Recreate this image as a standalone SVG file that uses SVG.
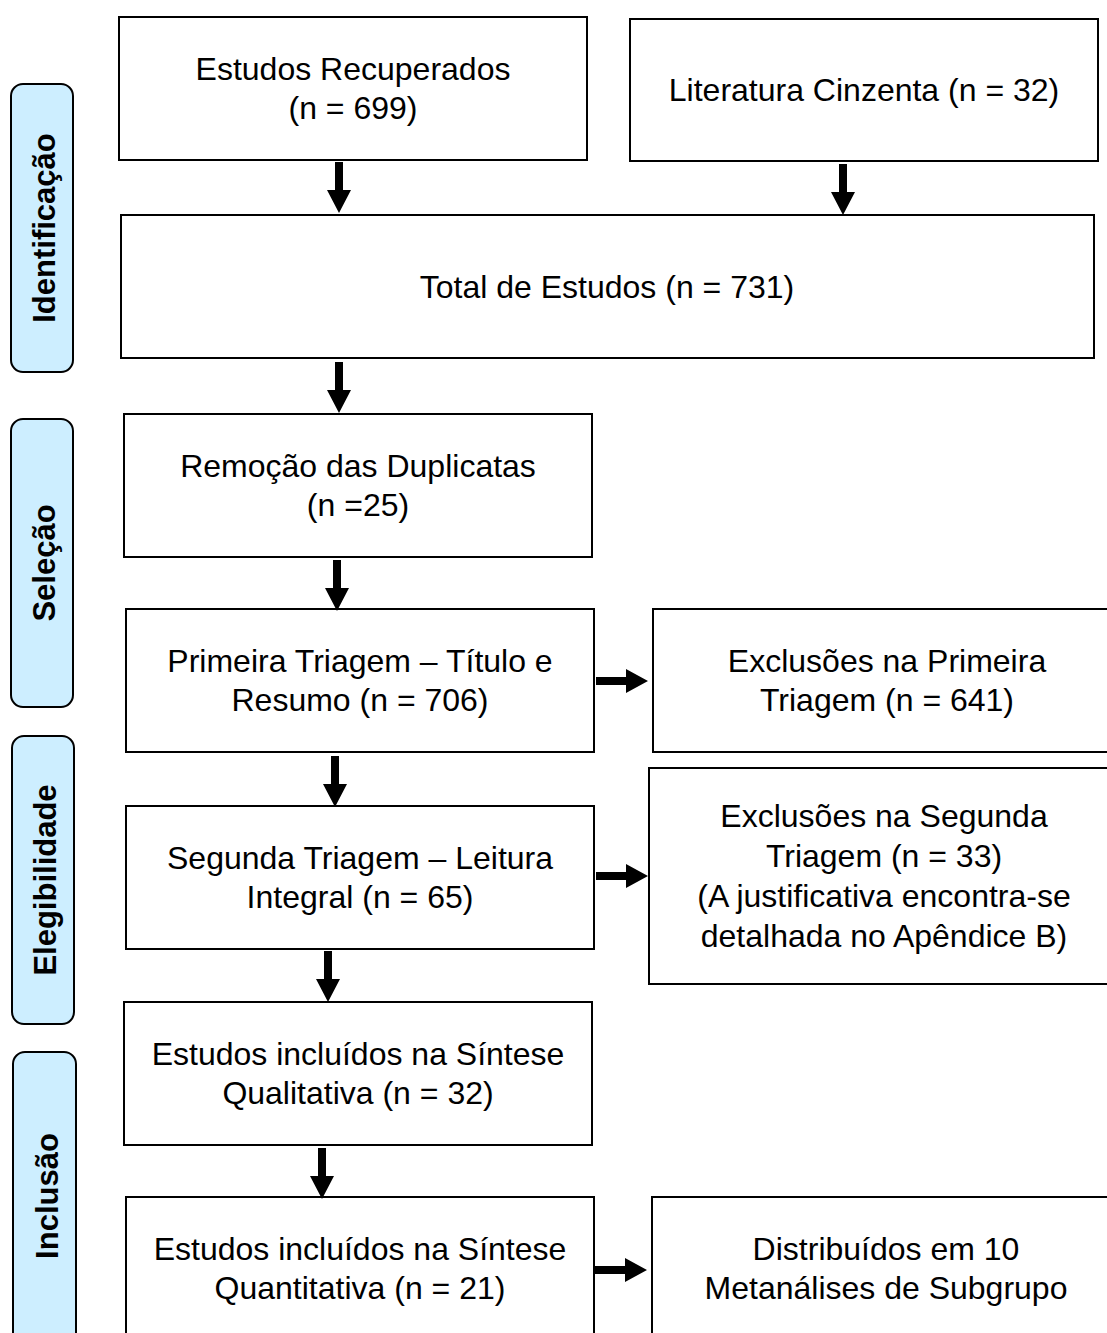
<svg xmlns="http://www.w3.org/2000/svg" width="1107" height="1333" viewBox="0 0 1107 1333">
<style>
.box{fill:#fff;stroke:#000;stroke-width:2}
.side{fill:#cdeeff;stroke:#000;stroke-width:2}
.t{font-family:"Liberation Sans",Arial,sans-serif;font-size:32px;fill:#000;text-anchor:middle}
.s{font-family:"Liberation Sans",Arial,sans-serif;font-size:31px;font-weight:bold;fill:#000;text-anchor:middle}
.arr{fill:#000}
</style>
<defs>
<path id="down" d="M-4,0 H4 V28 H12 L0,51 L-12,28 H-4 Z"/>
<path id="right" d="M0,-4 V4 H30 V12 L52,0 L30,-12 V-4 Z"/>
</defs>
<rect width="1107" height="1333" fill="#fff"/>
<g id="phase-identificacao"><rect class="side" x="11" y="84" width="62" height="288" rx="12"/><text class="s" transform="translate(55,228) rotate(-90)">Identificação</text></g>
<g id="phase-selecao"><rect class="side" x="11" y="419" width="62" height="288" rx="12"/><text class="s" transform="translate(55,563) rotate(-90)">Seleção</text></g>
<g id="phase-elegibilidade"><rect class="side" x="12" y="736" width="62" height="288" rx="12"/><text class="s" transform="translate(56,880) rotate(-90)">Elegibilidade</text></g>
<g id="phase-inclusao"><rect class="side" x="13" y="1052" width="63" height="300" rx="12"/><text class="s" transform="translate(58,1196) rotate(-90)">Inclusão</text></g>

<g id="n1"><rect class="box" x="119" y="17" width="468" height="143"/><text class="t" x="353" y="80">Estudos Recuperados</text><text class="t" x="353" y="119">(n = 699)</text></g>
<g id="n2"><rect class="box" x="630" y="19" width="468" height="142"/><text class="t" x="864" y="101">Literatura Cinzenta (n = 32)</text></g>
<g id="n3"><rect class="box" x="121" y="215" width="973" height="143"/><text class="t" x="607" y="298">Total de Estudos (n = 731)</text></g>
<g id="n4"><rect class="box" x="124" y="414" width="468" height="143"/><text class="t" x="358" y="477">Remoção das Duplicatas</text><text class="t" x="358" y="516">(n =25)</text></g>
<g id="n5"><rect class="box" x="126" y="609" width="468" height="143"/><text class="t" x="360" y="672">Primeira Triagem – Título e</text><text class="t" x="360" y="711">Resumo (n = 706)</text></g>
<g id="n6"><rect class="box" x="653" y="609" width="470" height="143"/><text class="t" x="887" y="672">Exclusões na Primeira</text><text class="t" x="887" y="711">Triagem (n = 641)</text></g>
<g id="n7"><rect class="box" x="126" y="806" width="468" height="143"/><text class="t" x="360" y="869">Segunda Triagem – Leitura</text><text class="t" x="360" y="908">Integral (n = 65)</text></g>
<g id="n8"><rect class="box" x="649" y="768" width="474" height="216"/><text class="t" x="884" y="827">Exclusões na Segunda</text><text class="t" x="884" y="867">Triagem (n = 33)</text><text class="t" x="884" y="907">(A justificativa encontra-se</text><text class="t" x="884" y="947">detalhada no Apêndice B)</text></g>
<g id="n9"><rect class="box" x="124" y="1002" width="468" height="143"/><text class="t" x="358" y="1065">Estudos incluídos na Síntese</text><text class="t" x="358" y="1104">Qualitativa (n = 32)</text></g>
<g id="n10"><rect class="box" x="126" y="1197" width="468" height="160"/><text class="t" x="360" y="1260">Estudos incluídos na Síntese</text><text class="t" x="360" y="1299">Quantitativa (n = 21)</text></g>
<g id="n11"><rect class="box" x="652" y="1197" width="470" height="160"/><text class="t" x="886" y="1260">Distribuídos em 10</text><text class="t" x="886" y="1299">Metanálises de Subgrupo</text></g>

<g id="connectors" class="arr">
<use href="#down" x="339" y="162"/>
<use href="#down" x="843" y="164"/>
<use href="#down" x="339" y="362"/>
<use href="#down" x="337" y="560"/>
<use href="#down" x="335" y="756"/>
<use href="#down" x="328" y="951"/>
<use href="#down" x="322" y="1148"/>
<use href="#right" x="596" y="681"/>
<use href="#right" x="596" y="876"/>
<use href="#right" x="595" y="1270"/>
</g>
</svg>
